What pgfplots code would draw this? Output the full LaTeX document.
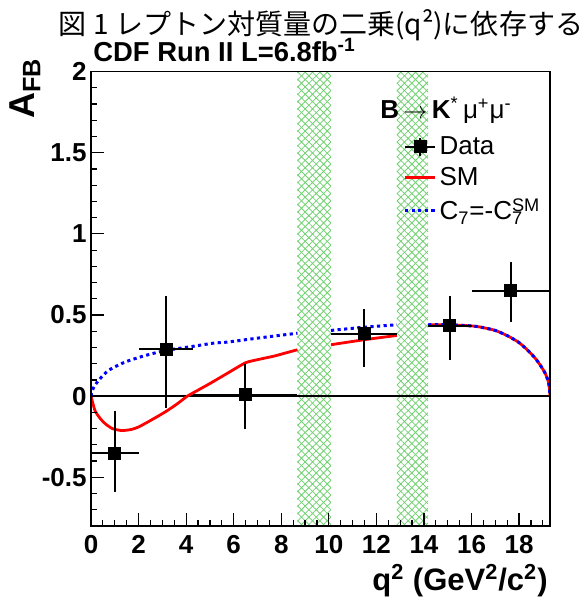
\documentclass[border=0pt]{standalone}
\usepackage{fontspec}
\setmainfont{Liberation Sans}
\newfontfamily\cjk{Noto Sans CJK JP}
\usepackage{pgfplots}
\pgfplotsset{compat=1.18}
\usetikzlibrary{patterns.meta}
\definecolor{hatch}{RGB}{110,208,110}
\begin{document}
\begin{tikzpicture}
\begin{axis}[
 scale only axis, width=229.5pt, height=227.2pt,
 xmin=0, xmax=19.3, ymin=-0.8, ymax=2,
 axis on top,
 axis line style={line width=0.7pt},
 tick align=inside, tick pos=left,
 xtick={0,2,4,6,8,10,12,14,16,18},
 xticklabels={0,2,4,6,8,10,12,14,16,18},
 minor xtick={0,0.5,...,19.1},
 ytick={-0.5,0,0.5,1,1.5,2},
 yticklabels={-0.5,0,0.5,1,1.5,2},
 minor ytick={-0.8,-0.7,...,2.01},
 major tick length=6.5pt, minor tick length=3.2pt,
 every tick/.style={black, line width=0.6pt},
 ticklabel style={font=\fontsize{13}{13}\selectfont\bfseries, inner sep=0pt},
 yticklabel style={xshift=-2pt},
 xticklabel style={yshift=-4.5pt},
 legend style={draw=none, fill=none, at={(0.68,0.865)}, anchor=north west,
   inner sep=0pt, font=\fontsize{13}{15}\selectfont, row sep=2pt,
   nodes={inner sep=1.5pt, anchor=west}},
 legend cell align=left,
 legend image code/.code={\draw[#1] (0pt,0pt) -- (15pt,0pt);},
]
% legend images
\addlegendimage{black, legend image code/.code={%
  \draw[black,line width=1pt] (0pt,0pt)--(15pt,0pt) (7.5pt,-4.5pt)--(7.5pt,4.5pt);
  \fill[black] (4.5pt,-3pt) rectangle (10.5pt,3pt);}}
\addlegendentry{Data}
\addlegendimage{red, line width=1.4pt}
\addlegendentry{SM}
\addlegendimage{blue, line width=1.5pt, dash pattern=on 1.6pt off 1.7pt}
\addlegendentry{C\textsubscript{7}=-C\rlap{\textsubscript{7}}\textsuperscript{SM}}

% veto bands
\addplot[forget plot, draw=none, pattern={Lines[angle=45,distance=2.6pt,line width=0.4pt]}, pattern color=hatch]
  coordinates {(8.68,-0.8) (8.68,2) (10.09,2) (10.09,-0.8)} -- cycle;
\addplot[forget plot, draw=none, pattern={Lines[angle=-45,distance=2.6pt,line width=0.4pt]}, pattern color=hatch]
  coordinates {(8.68,-0.8) (8.68,2) (10.09,2) (10.09,-0.8)} -- cycle;
\addplot[forget plot, draw=none, pattern={Lines[angle=45,distance=2.6pt,line width=0.4pt]}, pattern color=hatch]
  coordinates {(12.86,-0.8) (12.86,2) (14.18,2) (14.18,-0.8)} -- cycle;
\addplot[forget plot, draw=none, pattern={Lines[angle=-45,distance=2.6pt,line width=0.4pt]}, pattern color=hatch]
  coordinates {(12.86,-0.8) (12.86,2) (14.18,2) (14.18,-0.8)} -- cycle;

% zero line
\addplot[forget plot, black, line width=0.7pt] coordinates {(0,0) (19.3,0)};

% SM
\addplot[forget plot, red, line width=1.4pt, smooth, tension=0.35] coordinates {
(0,0) (0.17,-0.09) (0.4,-0.14) (0.6,-0.17) (0.9,-0.2) (1.3,-0.212) (1.7,-0.205)
(2.0,-0.19) (2.5,-0.15) (3.1,-0.099) (3.6,-0.05) (4.05,0) (4.5,0.037) (5.0,0.078)
(5.7,0.138) (6.5,0.206) (7.1,0.228) (7.7,0.247) (8.2,0.267) (8.68,0.286)};
\addplot[forget plot, red, line width=1.4pt, smooth] coordinates {
(10.09,0.317) (11.5,0.348) (12.86,0.374)};
\addplot[forget plot, red, line width=1.4pt, smooth, tension=0.4] coordinates {
(14.18,0.44) (15,0.44) (16,0.433) (16.4,0.425) (17,0.405) (17.54,0.37) (18,0.33)
(18.38,0.28) (18.7,0.23) (18.94,0.18) (19.1,0.14) (19.23,0.09) (19.28,0.04) (19.3,0)};

% C7 = -C7SM
\addplot[forget plot, blue, line width=1.5pt, dash pattern=on 1.6pt off 1.7pt, smooth, tension=0.4] coordinates {
(0,0) (0.03,0.024) (0.1,0.05) (0.31,0.096) (0.73,0.158) (1.43,0.21) (2.27,0.25)
(3.12,0.281) (4.24,0.306) (5.16,0.327) (5.72,0.333) (7.13,0.36) (8.68,0.388)};
\addplot[forget plot, blue, line width=1.5pt, dash pattern=on 1.6pt off 1.7pt, smooth] coordinates {
(10.09,0.405) (11.5,0.425) (12.86,0.44)};
\addplot[forget plot, blue, line width=1.5pt, dash pattern=on 1.6pt off 1.7pt, smooth, tension=0.4] coordinates {
(14.18,0.44) (15,0.44) (16,0.433) (16.4,0.425) (17,0.405) (17.54,0.37) (18,0.33)
(18.38,0.28) (18.7,0.23) (18.94,0.18) (19.1,0.14) (19.23,0.09) (19.28,0.04) (19.3,0)};

% data
\addplot[forget plot, only marks, black, mark=square*, mark size=3pt,
  error bars/.cd, x dir=both, x explicit, y dir=both, y explicit,
  error mark=none, error bar style={line width=1pt, black}]
coordinates {
(1.0,-0.35)    += (1.0,0.26)   -= (1.0,0.24)
(3.15,0.29)    += (1.15,0.325) -= (1.15,0.36)
(6.49,0.01)    += (2.19,0.19)  -= (2.19,0.21)
(11.475,0.385) += (1.385,0.155) -= (1.385,0.205)
(15.09,0.435)  += (0.91,0.185) -= (0.91,0.21)
(17.65,0.65)   += (1.65,0.175) -= (1.65,0.19)
};
\end{axis}
% texts
\node[anchor=center, inner sep=0pt] at (115pt,250.5pt)
  {\resizebox{262pt}{!}{\cjk\fontsize{15}{15}\selectfont 図\ 1\ レプトン対質量の二乗(q²)に依存する}};
\node[anchor=base west, inner sep=0pt, font=\fontsize{13.7}{14}\selectfont\bfseries] at (1pt,232pt)
  {CDF Run II L=6.8fb\textsuperscript{-1}};
\node[anchor=base east, rotate=90, inner sep=0pt, font=\fontsize{18}{18}\selectfont\bfseries] at (-28pt,234pt)
  {A\textsubscript{FB}};
\node[anchor=base east, inner sep=0pt, font=\fontsize{15.5}{16}\selectfont\bfseries] at (228.5pt,-32pt)
  {q\textsuperscript{2} (GeV\textsuperscript{2}/c\textsuperscript{2})};
\node[anchor=center, inner sep=0pt, font=\fontsize{13}{14}\selectfont] at (177.5pt,208pt)
  {\textbf{B}\,$\rightarrow$\,\textbf{K}\textsuperscript{*}\,μ\textsuperscript{+}μ\textsuperscript{-}};
\pgfresetboundingbox
\path[use as bounding box] (-45.5pt,-36pt) rectangle (248pt,263pt);
\end{tikzpicture}
\end{document}
